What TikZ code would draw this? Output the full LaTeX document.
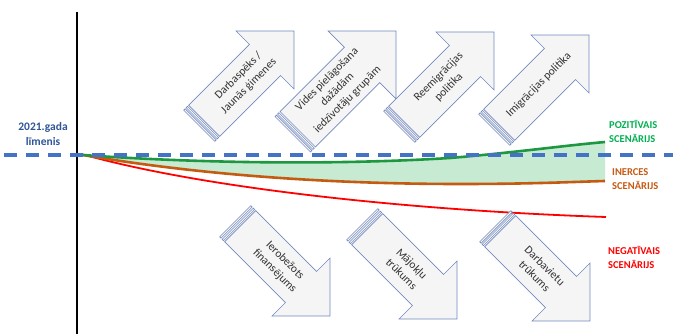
\documentclass[tikz,border=0pt]{standalone}
\usepackage{fontspec}
\setmainfont{Carlito}
\usepackage{tikz}
\usepackage{xcolor}

\definecolor{lvlblue}{RGB}{68,114,196}
\definecolor{lbltext}{RGB}{47,85,151}
\definecolor{posgreen}{RGB}{30,152,64}
\definecolor{postext}{RGB}{0,176,80}
\definecolor{posfill}{RGB}{198,234,210}
\definecolor{inerorange}{RGB}{197,90,17}
\definecolor{arredge}{RGB}{114,137,190}
\definecolor{arrgray}{RGB}{50,50,50}

\tikzset{
  arrbox/.style={draw=arredge, fill=gray!8, line width=0.6pt, line join=miter},
  arrtext/.style={text=arrgray, align=center, inner sep=0pt, font=\fontsize{11.5}{14.5}\selectfont},
  scentext/.style={anchor=west, align=left, inner sep=0pt, font=\bfseries\fontsize{10.5}{13.5}\selectfont}
}

% striped block arrow: name, tip x, tip y, angle, length, shaft half, head half, text
\newcommand{\strarrow}[8]{%
  \begin{scope}[shift={(#2,#3)}, rotate=#4]
    \draw[arrbox] (0,0) -- (-#7,#7) -- (-#7,#6) -- (-#5+7,#6) -- (-#5+7,-#6) -- (-#7,-#6) -- (-#7,-#7) -- cycle;
    \draw[arrbox] (-#5,-#6) rectangle (-#5+2,#6);
    \draw[arrbox] (-#5+3.5,-#6) rectangle (-#5+5.5,#6);
    \node[arrtext, rotate=#4] (#1) at (-#5+63,0) {#8};
  \end{scope}}

\begin{document}
\begin{tikzpicture}[x=1pt, y=-1pt]
\useasboundingbox (0,0) rectangle (673,334);

% laukums starp scenārijiem
\fill[posfill] (83,155) .. controls (180,162) and (320,166) .. (450,158)
  .. controls (520,152) and (560,146) .. (605,142) -- (605,181)
  .. controls (570,182) and (530,184) .. (460,184)
  .. controls (330,184) and (200,175) .. (83,155) -- cycle;

% scenāriju līknes
\draw[red, line width=1.8pt] (85,155) .. controls (200,187) and (400,210) .. (606,217);
\draw[inerorange, line width=2.6pt] (83,155) .. controls (200,175) and (330,184) .. (460,184)
  .. controls (530,184) and (570,182) .. (605,181);
\draw[posgreen, line width=2.6pt] (83,155) .. controls (180,162) and (320,166) .. (450,158)
  .. controls (520,152) and (560,146) .. (605,142);

% ass un 2021. gada līmenis
\coordinate (axtop) at (77,12);
\coordinate (axbot) at (77,334);
\draw[black, line width=1.8pt] (axtop) -- (axbot);
\coordinate (lvlL) at (4,155);
\coordinate (lvlR) at (673,155);
\draw[lvlblue, line width=3.2pt, dash pattern=on 13pt off 9pt] (lvlL) -- (lvlR);
\node[text=lbltext, align=center, inner sep=0pt, font=\bfseries\fontsize{11.5}{15}\selectfont] (limenis) at (43,134.5) {2021.gada\\līmenis};

% pozitīvie faktori
\strarrow{darbasp}{294}{31}{45}{134}{22}{41}{Darbaspēks /\\Jaunās ģimenes}
\strarrow{vides}{396}{31}{45}{146}{25}{48}{Vides pielāgošana\\dažādām\\iedzīvotāju grupām}
\strarrow{reemig}{494}{32}{45}{134}{22}{41}{Reemigrācijas\\politika}
\strarrow{imig}{589}{35}{45}{134}{22}{41}{Imigrācijas politika}

% negatīvie faktori
\strarrow{ierob}{330}{316}{-45}{134}{22}{41}{Ierobežots\\finansējums}
\strarrow{majok}{457}{319}{-45}{134}{22}{41}{Mājokļu\\trūkums}
\strarrow{darbav}{590}{321}{-45}{134}{22}{41}{Darbavietu\\trūkums}

% scenāriju nosaukumi
\node[scentext, text=postext] (pozit) at (609,131.5) {POZITĪVAIS\\SCENĀRIJS};
\node[scentext, text=inerorange] (inerc) at (612,179) {INERCES\\SCENĀRIJS};
\node[scentext, text=red] (negat) at (608,257.5) {NEGATĪVAIS\\SCENĀRIJS};
\end{tikzpicture}
\end{document}
